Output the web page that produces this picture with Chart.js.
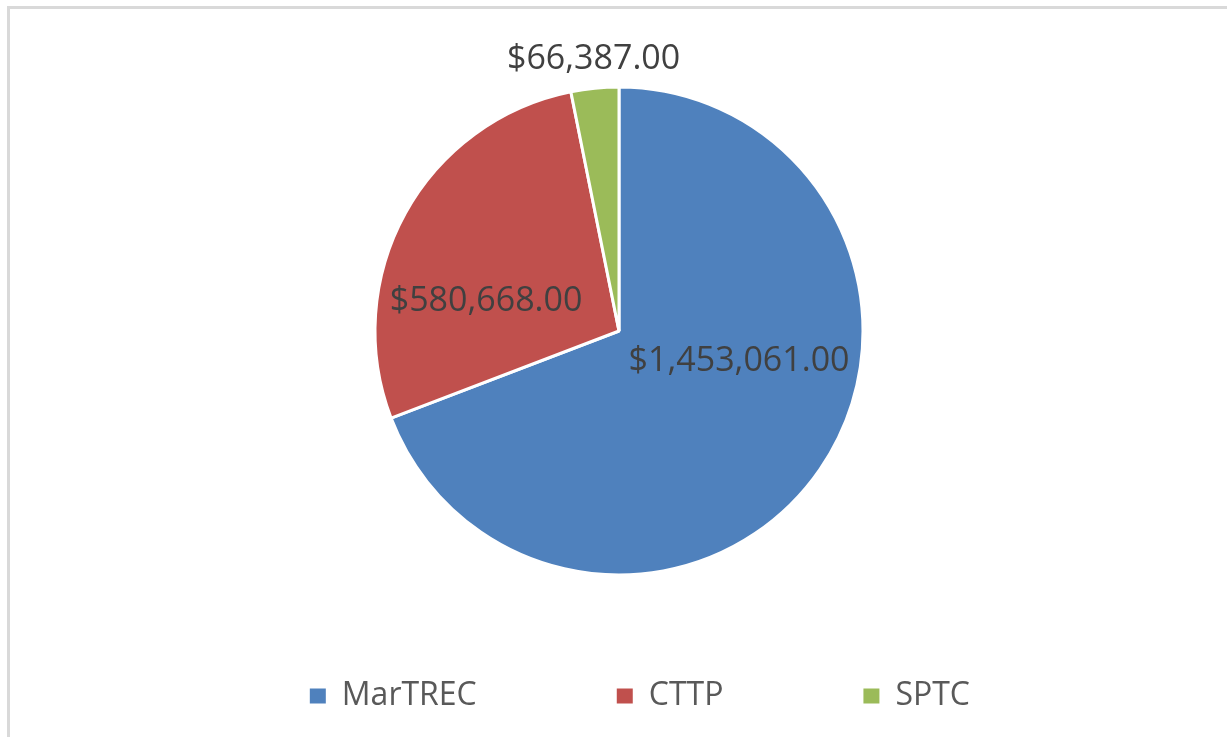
<!DOCTYPE html>
<html><head><meta charset="utf-8">
<script src="https://cdn.jsdelivr.net/npm/chart.js@4.4.1/dist/chart.umd.min.js"></script>
<style>
html,body{margin:0;padding:0;background:#fff;overflow:hidden;width:1227px;height:737px;}
#frame{position:absolute;left:7px;top:6px;width:1300px;height:800px;border:3px solid #d9d9d9;box-sizing:border-box;background:#fff;}
#wrap{position:absolute;left:0;top:0;width:1227px;height:737px;}
</style></head><body>
<div id="frame"></div>
<div id="wrap"><canvas id="c" width="1227" height="737"></canvas></div>
<script>
// ---- data ----
const categories = ['MarTREC', 'CTTP', 'SPTC'];
const values = [1453061, 580668, 66387];
const colors = ['#4F81BD', '#C0504D', '#9BBB59'];
// ---- label placement (style) ----
const labelAngleShift = [-21.6, -15.1, 0.4];
const labelRadiusFrac = [0.505, 0.561, 1.13];
const LABEL_FONT = 34;

function formatMoney(v) {
  return '$' + v.toLocaleString('en-US', {minimumFractionDigits: 2, maximumFractionDigits: 2});
}

const valueLabels = {
  id: 'valueLabels',
  afterDatasetsDraw(chart) {
    const ctx = chart.ctx;
    const meta = chart.getDatasetMeta(0);
    ctx.save();
    ctx.font = LABEL_FONT + 'px "Open Sans"';
    ctx.fillStyle = '#404040';
    ctx.textAlign = 'center';
    ctx.textBaseline = 'alphabetic';
    meta.data.forEach((arc, i) => {
      const p = arc.getProps(['x', 'y', 'startAngle', 'endAngle', 'outerRadius'], true);
      const a = (p.startAngle + p.endAngle) / 2 + labelAngleShift[i] * Math.PI / 180;
      const r = p.outerRadius * labelRadiusFrac[i];
      const tx = p.x + Math.cos(a) * r;
      const ty = p.y + Math.sin(a) * r;
      ctx.fillText(formatMoney(chart.data.datasets[0].data[i]), tx, ty + 0.357 * LABEL_FONT);
    });
    ctx.restore();
  }
};

new Chart(document.getElementById('c'), {
  type: 'pie',
  data: {
    labels: categories,
    datasets: [{
      data: values,
      backgroundColor: colors,
      borderColor: '#ffffff',
      borderWidth: 3,
      radius: 244
    }]
  },
  options: {
    responsive: false,
    animation: false,
    events: [],
    radius: 244,
    layout: {padding: {left: 128, right: 117, top: 122, bottom: 15}},
    plugins: {
      tooltip: {enabled: false},
      legend: {
        position: 'bottom',
        align: 'end',
        maxHeight: 182,
        labels: {
          padding: 140,
          boxWidth: 16,
          boxHeight: 15,
          color: '#595959',
          font: {family: "'Open Sans'", size: 32},
          generateLabels(chart) {
            const items = Chart.overrides.pie.plugins.legend.labels.generateLabels(chart);
            items.forEach(it => { it.lineWidth = 0; it.strokeStyle = 'rgba(0,0,0,0)'; });
            return items;
          }
        }
      }
    }
  },
  plugins: [valueLabels]
});
</script>
</body></html>
